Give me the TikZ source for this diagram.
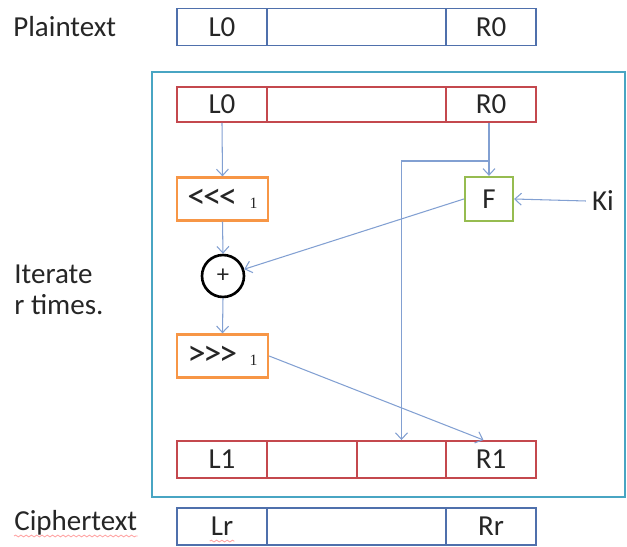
\documentclass[tikz,border=0pt]{standalone}
\usepackage{fontspec}
\setmainfont{Carlito}
\newfontfamily\smallserif{Liberation Serif}
\usepackage{tikz}
\usetikzlibrary{arrows.meta, positioning, decorations.pathmorphing}

\definecolor{plainblue}{RGB}{79,112,172}
\definecolor{roundred}{RGB}{196,72,78}
\definecolor{rotorange}{RGB}{247,150,70}
\definecolor{fgreen}{RGB}{150,188,80}
\definecolor{framecyan}{RGB}{72,165,195}
\definecolor{flowblue}{RGB}{130,160,210}

\begin{document}
\begin{tikzpicture}[
    x=0.02cm, y=-0.02cm,
    every node/.style={font=\fontsize{16.5}{17.5}\selectfont, text=black!85},
    cell/.style={draw, line width=1.1pt, minimum height=0.74cm, inner sep=0pt},
    narrow/.style={cell, minimum width=1.8cm},
    wide/.style={cell, minimum width=3.58cm},
    plain/.style={draw=plainblue},
    round/.style={draw=roundred},
    rotbox/.style={draw=rotorange, line width=1.3pt, minimum width=1.82cm, minimum height=0.86cm, inner sep=0pt},
    fstage/.style={draw=fgreen, line width=1.3pt, minimum width=0.96cm, minimum height=0.88cm, inner sep=0pt},
    xorc/.style={circle, draw=black, line width=1.5pt, minimum size=0.84cm, inner sep=0pt},
    label/.style={anchor=west, inner sep=0pt, align=left},
    flow/.style={draw=flowblue, line width=0.6pt, -{Straight Barb[length=1.3mm, width=2.4mm]}},
    squiggle/.style={draw=red!35, line width=0.5pt, decorate, decoration={snake, amplitude=0.5pt, segment length=3pt}},
]
\useasboundingbox (0,0) rectangle (627,547);

\node[label] (ptext) at (13,27) {Plaintext};
\node[narrow, plain] (pl) at (222,27) {L0};
\node[wide, plain] (pm) at (356.5,27) {};
\node[narrow, plain] (pr) at (491,27) {R0};

\draw[framecyan, line width=1.1pt] (152,72) rectangle (625,497);

\node[narrow, round, minimum height=0.7cm] (tl) at (222,104.5) {L0};
\node[wide, round, minimum height=0.7cm] (tm) at (356.5,104.5) {};
\node[narrow, round, minimum height=0.7cm] (tr) at (491,104.5) {R0};

\node[rotbox] (rotl) at (222.5,199) {{\fontsize{21}{21}\selectfont <\kern-1.5pt<\kern-1.5pt<}\kern7pt{\smallserif\fontsize{9}{9}\selectfont 1}};
\node[fstage] (ff) at (489,199) {F};
\node (ki) at (603,201) {Ki};

\node[xorc] (xor) at (223,276) {\fontsize{14}{14}\selectfont +};
\node[rotbox] (rotr) at (222.5,356) {{\fontsize{21}{21}\selectfont >\kern-1.5pt>\kern-1.5pt>}\kern7pt{\smallserif\fontsize{9}{9}\selectfont 1}};

\node[label] (iter) at (14,290) {Iterate\\r times.};

\node[narrow, round] (bl1) at (222,459.5) {L1};
\node[narrow, round] (bm1) at (312,459.5) {};
\node[narrow, round] (bm2) at (401.5,459.5) {};
\node[narrow, round] (br1) at (491,459.5) {R1};

\node[label] (ctext) at (14,523) {Ciphertext};
\node[narrow, plain] (cl) at (222,526.5) {Lr};
\node[wide, plain] (cm) at (356.5,526.5) {};
\node[narrow, plain] (cr) at (491,526.5) {Rr};

\coordinate (split) at (489,161);

\draw[flow] (tl.south) -- (rotl.north);
\draw[flow] (tr.south -| ff.north) -- (ff.north);
\draw[flow] (split) -| (bm2.north);
\draw[flow] (ki.west) -- (ff.east);
\draw[flow] (ff.west) -- (xor);
\draw[flow] (rotl.south) -- (xor.north);
\draw[flow] (xor.south) -- (rotr.north);
\draw[flow] (rotr.east) -- ([xshift=-0.15cm]br1.north);

\draw[squiggle] ([yshift=-3pt]ctext.base west) -- ([yshift=-3pt]ctext.base east);
\draw[squiggle] ([xshift=-7pt, yshift=-3pt]cl.base) -- ([xshift=7pt, yshift=-3pt]cl.base);

\end{tikzpicture}
\end{document}
